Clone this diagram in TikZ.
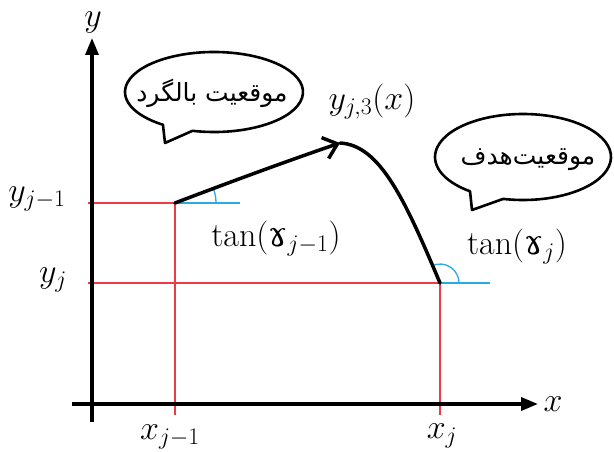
\RequirePackage{fix-cm}
\documentclass[tikz,border=0pt]{standalone}
\usepackage{fontspec}
\TeXXeTstate=1
\newfontfamily\arabicfont[Script=Arabic]{DejaVu Sans}
\newfontfamily\ipafont{DejaVu Serif}
\usetikzlibrary{arrows.meta}
\definecolor{redl}{RGB}{235,60,70}
\definecolor{bluel}{RGB}{40,170,230}
\newcommand{\ram}{\mbox{\ipafont ɤ}}
\begin{document}
\begin{tikzpicture}[x=1pt,y=-1pt,
  axis/.style={line width=3.5pt,-{Triangle[length=17pt,width=13pt]}},
  redline/.style={redl,line width=1.3pt},
  blueline/.style={bluel,line width=1.3pt},
  curve/.style={line width=3.5pt,line cap=round},
  bubble/.style={line width=2.6pt,fill=white,line join=round},
  mathlbl/.style={font=\fontsize{34}{40}\selectfont,inner sep=0pt},
  arlbl/.style={font=\arabicfont\fontsize{25}{30}\selectfont,inner sep=0pt}]
\useasboundingbox (0,0) rectangle (614,452);
% coordinates
\coordinate (yb) at (92,422);
\coordinate (yt) at (92,38);
\coordinate (xl) at (72,404);
\coordinate (xr) at (538,404);
\coordinate (P1) at (175,203);
\coordinate (P2) at (440,283);
\coordinate (M) at (340,143);
\coordinate (ya) at (88,203);
\coordinate (yb2) at (88,283);
\coordinate (xa) at (175,415);
\coordinate (xb) at (440,415);
\coordinate (b1) at (240,203);
\coordinate (b2) at (490,283);
% red guides
\draw[redline] (ya) -- (P1) -- (xa);
\draw[redline] (yb2) -- (P2) -- (xb);
% blue horizontals and angle marks
\draw[blueline] (P1) -- (b1);
\draw[blueline] (P2) -- (b2);
\draw[blueline] (P1) ++(-20:41) arc[start angle=-20,end angle=0,radius=41];
\draw[blueline] (P2) ++(-115:19) arc[start angle=-115,end angle=0,radius=19];
% axes
\draw[axis] (yb) -- (yt);
\draw[axis] (xl) -- (xr);
% curve
\draw[curve,-{Straight Barb[length=13pt,width=22pt]}] (P1) .. controls (230,182) and (290,160) .. (M);
\draw[curve] (M) .. controls (380,145) and (405,200) .. (P2);
% bubbles
\draw[bubble] (214,92) ++(104:89 and 40) arc[start angle=104,end angle=-235,x radius=89,y radius=40] -- (165,143) -- cycle;
\draw[bubble] (523,157) ++(103:88 and 43) arc[start angle=103,end angle=-233,x radius=88,y radius=43] -- (472,210) -- cycle;
\node[arlbl] (t1) at (212,93) {\beginR موقعيت بالگرد\endR};
\node[arlbl] (t2) at (528,160) {\beginR موقعيت‌هدف\endR};
% labels
\node[mathlbl] (ly) at (93,22) {$y$};
\node[mathlbl] (lx) at (553,404) {$x$};
\node[mathlbl] (lyj1) at (37,199) {$y_{j-1}$};
\node[mathlbl] (lyj) at (53,280) {$y_{j}$};
\node[mathlbl] (lxj1) at (170,437) {$x_{j-1}$};
\node[mathlbl] (lxj) at (442,436) {$x_{j}$};
\node[mathlbl] (lf) at (372,102) {$y_{j,3}(x)$};
\node[mathlbl] (lt1) at (276,239) {$\tan(\ram_{j-1})$};
\node[mathlbl] (lt2) at (517,247) {$\tan(\ram_{j})$};
\end{tikzpicture}
\end{document}
